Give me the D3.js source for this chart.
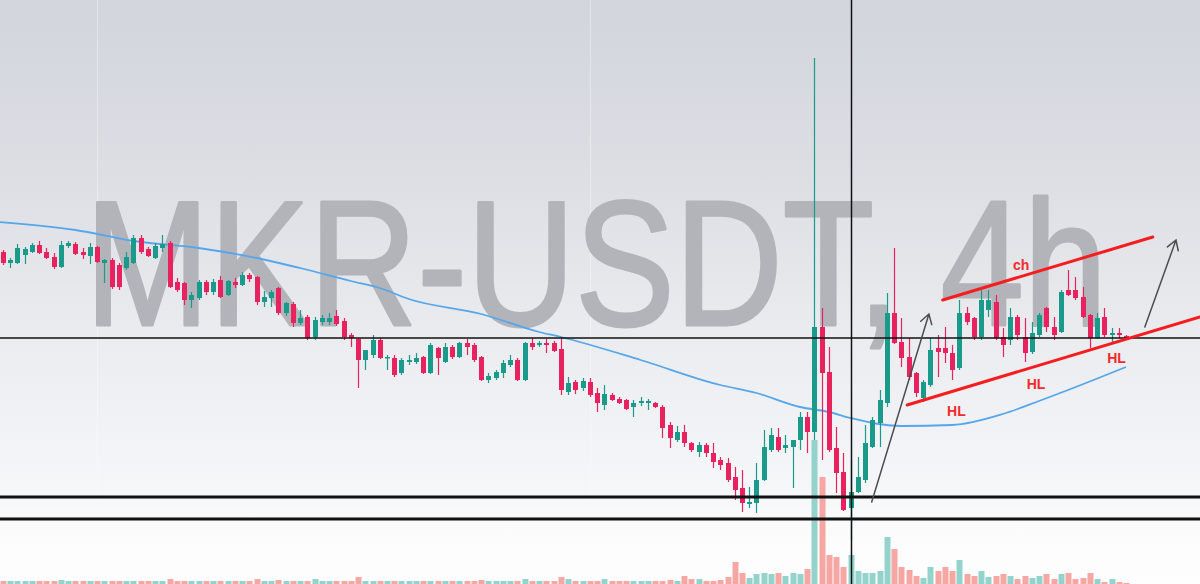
<!DOCTYPE html>
<html><head><meta charset="utf-8">
<script src="https://cdn.jsdelivr.net/npm/d3@7/dist/d3.min.js"></script>
<style>html,body{margin:0;padding:0;background:#fff;overflow:hidden}svg{display:block}</style>
</head><body>
<svg id="c" width="1200" height="584"></svg>
<script>
// ---- data ----
const title = "MKR-USDT, 4h";
const opens = [1348,1337,1337,1345,1348,1355,1348,1343,1333,1354,1356,1348,1344,1353,1337,1340,1335,1332,1337,1362,1351,1342,1352,1357,1318,1317,1300,1302,1318,1308,1320,1305,1318,1315,1325,1323,1298,1302,1312,1287,1296,1277,1283,1263,1278,1278,1284,1279,1265,1261,1240,1245,1260,1242,1242,1227,1238,1238,1243,1227,1252,1238,1253,1243,1257,1255,1243,1220,1222,1227,1235,1240,1220,1257,1255,1257,1257,1251,1208,1218,1212,1218,1207,1195,1205,1201,1200,1193,1197,1197,1197,1193,1175,1160,1168,1157,1148,1155,1147,1140,1137,1123,1112,1096,1097,1120,1150,1163,1152,1153,1160,1183,1168,1273,1228,1152,1128,1092,1108,1120,1153,1177,1197,1287,1258,1243,1227,1202,1215,1252,1252,1247,1232,1287,1282,1263,1290,1298,1263,1260,1283,1263,1248,1265,1292,1273,1268,1310,1310,1303,1285,1262,1283,1265,1267,1264];
const highs = [1350,1342,1356,1353,1357,1359,1352,1347,1359,1359,1358,1352,1357,1354,1341,1342,1337,1348,1365,1365,1353,1357,1365,1359,1322,1318,1308,1320,1320,1321,1324,1320,1322,1328,1327,1324,1309,1310,1313,1298,1298,1290,1285,1283,1285,1287,1290,1282,1267,1262,1250,1265,1262,1245,1245,1242,1245,1247,1244,1257,1253,1257,1255,1258,1261,1257,1244,1227,1230,1240,1245,1242,1258,1262,1259,1261,1259,1263,1223,1220,1222,1222,1212,1215,1207,1203,1201,1200,1203,1201,1198,1195,1178,1174,1175,1158,1158,1157,1157,1143,1142,1133,1130,1113,1137,1170,1172,1172,1165,1160,1188,1188,1542,1292,1253,1173,1147,1140,1143,1175,1183,1210,1307,1352,1282,1262,1228,1220,1262,1265,1273,1255,1300,1293,1283,1310,1310,1305,1272,1292,1285,1282,1278,1287,1293,1283,1310,1330,1323,1313,1286,1287,1292,1272,1272,1265];
const lows = [1335,1332,1336,1336,1347,1346,1341,1331,1332,1352,1345,1341,1336,1337,1317,1311,1310,1330,1336,1346,1343,1341,1348,1312,1308,1295,1292,1300,1305,1305,1302,1304,1312,1314,1318,1295,1293,1293,1285,1284,1273,1275,1260,1260,1275,1275,1274,1260,1253,1212,1230,1242,1241,1230,1223,1225,1235,1236,1226,1226,1225,1237,1241,1242,1245,1238,1219,1217,1220,1222,1233,1219,1219,1250,1253,1247,1248,1205,1205,1206,1209,1203,1188,1190,1199,1196,1190,1183,1194,1190,1192,1162,1152,1158,1153,1148,1143,1143,1132,1130,1118,1100,1088,1092,1087,1119,1148,1148,1147,1112,1150,1147,1160,1140,1148,1107,1089,1060,1107,1117,1152,1153,1193,1256,1233,1220,1203,1198,1213,1223,1237,1220,1230,1275,1260,1260,1283,1260,1243,1255,1260,1238,1246,1263,1268,1260,1267,1304,1300,1282,1252,1261,1263,1258,1262,1262];
const closes = [1337,1340,1352,1351,1355,1347,1342,1333,1355,1357,1346,1345,1353,1338,1340,1313,1313,1343,1362,1348,1344,1354,1356,1313,1310,1300,1305,1318,1308,1318,1303,1319,1315,1325,1321,1298,1303,1308,1287,1297,1277,1282,1262,1280,1282,1282,1276,1263,1262,1240,1250,1260,1242,1243,1225,1240,1240,1242,1227,1255,1242,1253,1243,1257,1253,1240,1220,1224,1228,1237,1240,1220,1257,1253,1257,1255,1249,1210,1217,1210,1219,1205,1197,1206,1200,1197,1191,1197,1199,1199,1193,1172,1162,1168,1157,1150,1155,1147,1138,1135,1120,1110,1097,1098,1120,1153,1165,1150,1155,1160,1183,1168,1273,1227,1150,1127,1090,1108,1123,1157,1180,1200,1287,1257,1242,1223,1207,1218,1250,1248,1247,1230,1287,1278,1263,1300,1300,1262,1255,1283,1265,1247,1267,1285,1273,1265,1308,1305,1302,1283,1262,1282,1265,1267,1265,1263];
const volumes = [30,30,30,30,30,30,30,30,40,30, 30,30,30,30,30,30,30,30,30,30, 30,30,30,50,30,30,30,30,30,30, 30,30,30,30,30,50,30,30,40,30, 30,30,30,50,30,30,30,30,30,70, 30,30,30,30,30,30,30,30,30,30, 30,30,30,30,30,30,40,30,30,30, 30,30,50,30,30,30,30,70,50,30, 30,30,30,50,30,30,30,30,30,30, 30,30,40,30,80,50,50,30,30,40, 70,220,110,60,100,110,100,110,80,110, 100,150,1440,1070,290,270,170,290,130,110, 110,130,470,350,170,140,80,60,170,130, 170,130,240,100,80,130,70,80,100,80, 50,80,60,80,100,50,100,110,50,60, 110,50,20,50,20,10];
// moving average (index, value)
const maIndex = [-0.5,10,18,27,35,41,48,52,56,66,74,77,88,99,104,110,114,117,120,124,131,138,143,147,155];
const maValue = [1378,1370,1359,1352,1342,1332,1319,1312,1301,1286,1268,1263,1240,1215,1207,1193,1188,1182,1177,1174,1175,1186,1199,1210,1233];
// drawn levels
const levels = [1262, 1103, 1081];
const levelWidths = [1.5, 3, 3];
const crosshairIndex = 117;
// channel lines [i1, p1, i2, p2]
const channelUpper = [129.7, 1300, 158.7, 1363];
const channelLower = [124.8, 1195, 165.2, 1283];
// arrows [i1, p1, i2, p2]
const arrows = [[119.9, 1098, 127.8, 1286], [157.6, 1273, 161.9, 1360]];
// labels
const labelText = ["ch", "HL", "HL", "HL"];
const labelIndex = [139.4, 130.3, 141.3, 152.4];
const labelPrice = [1330, 1184, 1211, 1237];

// ---- drawing ----
const W = 1200, H = 584;
const svg = d3.select("#c");
const x = d3.scaleLinear().domain([0, opens.length - 1]).range([3, 1126]);
const y = d3.scaleLinear().domain([1016, 1600]).range([H, 0]);
const yv = d3.scaleLinear().domain([0, 1440]).range([H, 440]);

const defs = svg.append("defs");
const grad = defs.append("linearGradient").attr("id", "bg").attr("x1", 0).attr("y1", 0).attr("x2", 0).attr("y2", 1);
[[0, "#d2d5dc"], [0.3, "#dcdee4"], [0.58, "#eaecef"], [0.85, "#f6f7f9"], [0.9, "#fbfbfc"], [1, "#fefefe"]]
  .forEach(s => grad.append("stop").attr("offset", s[0]).attr("stop-color", s[1]));
svg.append("rect").attr("width", W).attr("height", H).attr("fill", "url(#bg)");

// faint grid
svg.append("g").selectAll("line").data([97, 590]).join("line")
  .attr("x1", d => d + 0.5).attr("x2", d => d + 0.5).attr("y1", 0).attr("y2", 500)
  .attr("stroke", "rgba(255,255,255,0.35)").attr("stroke-width", 1);

// watermark
svg.append("text").text(title)
  .attr("x", 85).attr("y", 325)
  .attr("textLength", 1022).attr("lengthAdjust", "spacingAndGlyphs")
  .attr("font-family", "Liberation Sans, Arial, sans-serif").attr("font-size", 178)
  .attr("fill", "#b2b4ba").attr("stroke", "#b2b4ba").attr("stroke-width", 3).attr("stroke-linejoin", "round");

const idx = d3.range(opens.length);
const up = i => closes[i] >= opens[i];
const UP = "#1a9a8a", DN = "#e8225e", UPV = "#93d3cc", DNV = "#f6a7a4";
const px = i => Math.round(x(i));

// volume
svg.append("g").selectAll("rect").data(idx).join("rect")
  .attr("x", i => px(i) - 2.5).attr("width", 6)
  .attr("y", i => yv(volumes[i])).attr("height", i => H - yv(volumes[i]))
  .attr("fill", i => up(i) ? UPV : DNV);

// moving average
svg.append("path").datum(d3.range(maIndex.length))
  .attr("d", d3.line().x(k => x(maIndex[k])).y(k => y(maValue[k])).curve(d3.curveMonotoneX))
  .attr("fill", "none").attr("stroke", "#55a6ea").attr("stroke-width", 1.8);

// candles
const cg = svg.append("g");
cg.selectAll("line").data(idx).join("line")
  .attr("x1", i => px(i) + 0.5).attr("x2", i => px(i) + 0.5)
  .attr("y1", i => y(highs[i])).attr("y2", i => y(lows[i]))
  .attr("stroke", i => up(i) ? UP : DN).attr("stroke-width", 1.2);
cg.selectAll("rect").data(idx).join("rect")
  .attr("x", i => px(i) - 2).attr("width", 5)
  .attr("y", i => y(Math.max(opens[i], closes[i])))
  .attr("height", i => Math.max(1.5, Math.abs(y(opens[i]) - y(closes[i]))))
  .attr("fill", i => up(i) ? UP : DN);

// horizontal levels
svg.append("g").selectAll("line").data(d3.range(levels.length)).join("line")
  .attr("x1", 0).attr("x2", W)
  .attr("y1", k => y(levels[k])).attr("y2", k => y(levels[k]))
  .attr("stroke", "#111").attr("stroke-width", k => levelWidths[k]);

// crosshair vertical
svg.append("line").attr("x1", px(crosshairIndex) + 0.5).attr("x2", px(crosshairIndex) + 0.5)
  .attr("y1", 0).attr("y2", H).attr("stroke", "#111").attr("stroke-width", 1.5);

// channel
svg.append("g").selectAll("line").data([channelUpper, channelLower]).join("line")
  .attr("x1", d => x(d[0])).attr("y1", d => y(d[1]))
  .attr("x2", d => x(d[2])).attr("y2", d => y(d[3]))
  .attr("stroke", "#f51d1d").attr("stroke-width", 3).attr("stroke-linecap", "round");

// arrows
const ag = svg.append("g").attr("stroke", "#4d4d4f").attr("stroke-width", 1.5).attr("fill", "none").attr("stroke-linecap", "round");
arrows.forEach(a => {
  const x1 = x(a[0]), y1 = y(a[1]), x2 = x(a[2]), y2 = y(a[3]);
  const ang = Math.atan2(y2 - y1, x2 - x1), L = 11, sp = 0.55;
  ag.append("path").attr("d",
    `M${x1},${y1}L${x2},${y2}` +
    `M${x2 - L * Math.cos(ang - sp)},${y2 - L * Math.sin(ang - sp)}L${x2},${y2}` +
    `L${x2 - L * Math.cos(ang + sp)},${y2 - L * Math.sin(ang + sp)}`);
});

// labels
svg.append("g").selectAll("text").data(d3.range(labelText.length)).join("text")
  .attr("x", k => x(labelIndex[k])).attr("y", k => y(labelPrice[k]))
  .text(k => labelText[k])
  .attr("font-family", "Liberation Sans, Arial, sans-serif").attr("font-weight", "bold")
  .attr("font-size", 14).attr("fill", "#f22a2a");
</script>
</body></html>
